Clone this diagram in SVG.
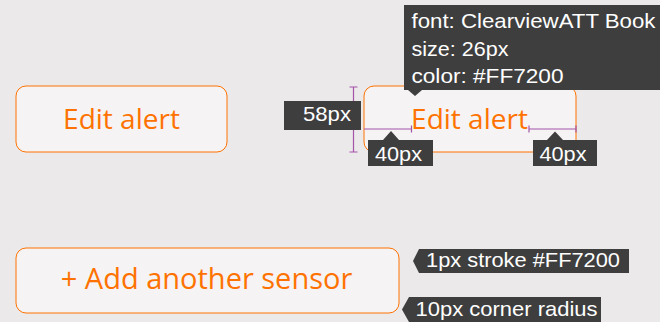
<svg xmlns="http://www.w3.org/2000/svg" width="660" height="322" viewBox="0 0 660 322">
  <style>
    .btn { fill: #F5F3F4; stroke: #FF7200; stroke-width: 1; }
    .btn-text { font-family: "Open Sans", "Noto Sans", sans-serif; font-size: 28px; fill: #FF7200; text-anchor: middle; }
    .tag { fill: #3E3E3E; }
    .tag-text { font-family: "Liberation Sans", Arial, sans-serif; font-size: 21px; fill: #FFFFFF; }
    .dim { stroke: #A455A8; stroke-width: 1.2; fill: none; }
  </style>

  <!-- page background -->
  <rect width="660" height="322" fill="#EBE9EA"/>

  <!-- plain button -->
  <g id="button-edit-alert">
    <rect class="btn" x="16" y="86" width="211" height="66" rx="10"/>
    <text class="btn-text" x="121.5" y="129">Edit alert</text>
  </g>

  <!-- button with spec annotations -->
  <g id="button-edit-alert-spec">
    <rect class="btn" x="364" y="86" width="212" height="66" rx="10"/>
    <text class="btn-text" x="469.5" y="129">Edit alert</text>
  </g>

  <!-- wide button -->
  <g id="button-add-sensor">
    <rect class="btn" x="16" y="248" width="383" height="65" rx="10"/>
    <text class="btn-text" x="206.5" y="288.5" style="font-size:29px">+ Add another sensor</text>
  </g>

  <!-- dimension lines -->
  <g id="connectors">
    <!-- height: 58px -->
    <path class="dim" d="M353.5 87 V152 M349.5 87 H357.5 M349.5 152 H357.5"/>
    <!-- left padding: 40px -->
    <path class="dim" d="M364 129 H411.5 M411.5 125.5 V132.5"/>
    <!-- right padding: 40px -->
    <path class="dim" d="M529 129 H576 M529 125.5 V132.5 M576 125.5 V132.5"/>
  </g>

  <!-- font callout -->
  <g id="callout-font">
    <path class="tag" d="M404 5 H660 V90 H422 L415 96 L408 90 H404 Z"/>
    <text class="tag-text" x="411.5" y="28" textLength="244" lengthAdjust="spacingAndGlyphs">font: ClearviewATT Book</text>
    <text class="tag-text" x="411.5" y="56" textLength="97" lengthAdjust="spacingAndGlyphs">size: 26px</text>
    <text class="tag-text" x="411.5" y="83" textLength="152" lengthAdjust="spacingAndGlyphs">color: #FF7200</text>
  </g>

  <!-- height label -->
  <g id="label-height">
    <rect class="tag" x="284" y="101" width="77" height="29"/>
    <text class="tag-text" x="303" y="121" textLength="48" lengthAdjust="spacingAndGlyphs">58px</text>
  </g>

  <!-- left padding label -->
  <g id="label-pad-left">
    <path class="tag" d="M368 140 H383 L391 131 L399 140 H433 V166 H368 Z"/>
    <text class="tag-text" x="375" y="161" textLength="47" lengthAdjust="spacingAndGlyphs">40px</text>
  </g>

  <!-- right padding label -->
  <g id="label-pad-right">
    <path class="tag" d="M533 140 H547 L555 131.5 L563 140 H597 V166 H533 Z"/>
    <text class="tag-text" x="539.5" y="161" textLength="47" lengthAdjust="spacingAndGlyphs">40px</text>
  </g>

  <!-- stroke label -->
  <g id="label-stroke">
    <path class="tag" d="M419 249 H629 V273 H419 L413 261 Z"/>
    <text class="tag-text" x="426" y="267" textLength="194" lengthAdjust="spacingAndGlyphs">1px stroke #FF7200</text>
  </g>

  <!-- radius label -->
  <g id="label-radius">
    <path class="tag" d="M409 297 H601 V322 H409 L402 309.5 Z"/>
    <text class="tag-text" x="415.5" y="316" textLength="182" lengthAdjust="spacingAndGlyphs">10px corner radius</text>
  </g>
</svg>
